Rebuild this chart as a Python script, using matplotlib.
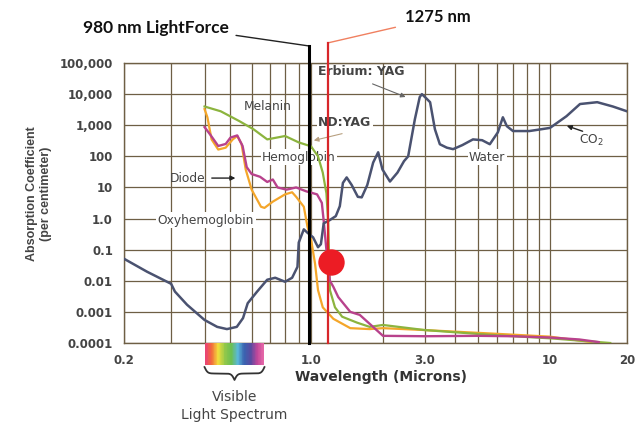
import numpy as np
import matplotlib; matplotlib.use("Agg")
import matplotlib.pyplot as plt
import matplotlib.ticker as mticker
import matplotlib.transforms as mtrans
from matplotlib.colors import LinearSegmentedColormap

# ---- curves (wavelength in microns, absorption per cm) ----
WATER_X=[0.2,0.244,0.3,0.31,0.344,0.4,0.446,0.485,0.528,0.557,0.58,0.629,0.686,0.735,0.8,0.85,0.89,0.9,0.94,0.97,
         1.02,1.07,1.1,1.13,1.2,1.27,1.32,1.36,1.41,1.48,1.57,1.63,1.72,1.82,1.91,1.99,2.14,2.3,2.45,2.55,2.72,2.85,
         2.91,3.0,3.15,3.3,3.46,3.7,3.93,4.3,4.76,5.2,5.6,6.05,6.35,6.6,7.0,8.2,10.0,11.6,13.1,15.3,17.6,20.0]
WATER_Y=[0.051,0.0195,0.008,0.0045,0.0017,0.00055,0.00033,0.00028,0.00033,0.00063,0.0019,0.0045,0.0108,0.0125,0.0093,0.0125,0.028,0.17,0.45,0.35,
         0.25,0.12,0.15,0.7,0.9,1.2,2.5,14,21,12,5,4.8,12,63,135,38,15.5,30,70,100,1550,8000,
         10000,8000,5500,740,245,190,170,230,350,330,245,590,1800,930,650,650,820,1950,4800,5500,4000,2800]

MELANIN_X=[0.4,0.46,0.54,0.61,0.686,0.8,0.9,1.0,1.07,1.12,1.16,1.18,1.2,1.26,1.35,1.56,1.76,2.0,3.0,5.8,10.2,17.2]
MELANIN_Y=[4000,2800,1350,740,350,450,280,210,100,30,6.5,0.8,0.005,0.0014,0.0007,0.00045,0.00033,0.00038,0.00026,0.00018,0.00014,0.0001]

OXY_X=[0.4,0.41,0.425,0.45,0.48,0.51,0.53,0.55,0.57,0.6,0.65,0.67,0.72,0.8,0.85,0.88,0.94,0.97,1.0,1.04,1.07,1.12,1.24,1.46,1.76,2.0,3.0,5.8,10.0,14.5]
OXY_Y=[3300,1800,350,165,190,350,450,250,38,8.5,2.4,2.2,3.5,6,7,5,2.4,0.55,0.22,0.035,0.005,0.0014,0.0006,0.0003,0.00028,0.0003,0.00026,0.0002,0.00016,0.000107]

HEMO_X=[0.4,0.42,0.45,0.48,0.5,0.53,0.555,0.575,0.6,0.645,0.686,0.72,0.75,0.81,0.88,0.96,1.06,1.11,1.13,1.16,1.2,1.24,1.3,1.46,1.6,2.0,3.0,5.0,7.0,10.0,13.0,15.5]
HEMO_Y=[870,500,215,250,400,470,215,45,27,22,15,18,10,8.5,10,7.5,6,3.2,0.85,0.1,0.01,0.0064,0.003,0.001,0.0008,0.00017,0.000165,0.00017,0.000165,0.00015,0.00013,0.000107]

LINE_X=[0.98,1.18]          # 980 nm LightForce (black), 1275 nm marker (red, where the scan draws it)
DOT=(1.21,0.041)
SPECTRUM=(0.4,0.67)
SPECTRUM_COLS=["#e8407a","#f26a3c","#f3df3c","#93c84a","#6bbf52","#5ab8d8","#3b62b0","#5a4aa0","#c2479a","#e86aa8"]

YTICKS=[1e-4,1e-3,1e-2,1e-1,1,10,100,1e3,1e4,1e5]
YLABELS=["0.0001","0.001","0.01","0.1","1.0","10","100","1,000","10,000","100,000"]
XTICKS=[0.2,1.0,3.0,10,20]
XLABELS=["0.2","1.0","3.0","10","20"]
XMINOR=[0.3,0.4,0.5,0.6,0.7,0.8,0.9,2,4,5,6,7,8,9]

# scanned x axis is not a clean log axis: piecewise-log calibration
LOGK=[-6.0,np.log10(0.2),0.0,1.0,np.log10(20),6.0]
PIXK=[-1418,0,187,426,503,1705]
def fwd(x): return np.interp(np.log10(np.clip(np.asarray(x,float),1e-30,None)),LOGK,PIXK)
def inv(p): return 10**np.interp(np.asarray(p,float),PIXK,LOGK)

GRID="#6e5f45"; TXT="#444444"
plt.rcParams.update({"font.family":"DejaVu Sans"})
fig=plt.figure(figsize=(6.4,4.24),dpi=100,facecolor="white")
ax=fig.add_axes([124/640,1-343/424,503/640,280/424])
ax.set_xscale("function",functions=(fwd,inv)); ax.set_yscale("log")
ax.set_xlim(0.2,20); ax.set_ylim(1e-4,1e5)
ax.xaxis.set_major_locator(mticker.FixedLocator(XTICKS))
ax.xaxis.set_minor_locator(mticker.FixedLocator(XMINOR))
ax.xaxis.set_major_formatter(mticker.FixedFormatter(XLABELS))
ax.xaxis.set_minor_formatter(mticker.NullFormatter())
ax.yaxis.set_major_locator(mticker.FixedLocator(YTICKS))
ax.yaxis.set_major_formatter(mticker.FixedFormatter(YLABELS))
ax.yaxis.set_minor_locator(mticker.NullLocator())
ax.tick_params(which="both",length=0,labelsize=8.5,labelcolor=TXT)
ax.tick_params(axis="x",pad=8); ax.tick_params(axis="y",pad=8)
for lb in ax.get_xticklabels()+ax.get_yticklabels(): lb.set_fontweight("bold")
ax.grid(True,which="both",color=GRID,lw=0.9); ax.set_axisbelow(True)
for sp in ax.spines.values(): sp.set_color(GRID); sp.set_linewidth(1)

ax.plot(OXY_X,OXY_Y,color="#f4a62a",lw=1.6,zorder=3)
ax.plot(MELANIN_X,MELANIN_Y,color="#8cb43e",lw=1.6,zorder=3.1)
ax.plot(HEMO_X,HEMO_Y,color="#b8428c",lw=1.7,zorder=3.2)
ax.plot(WATER_X,WATER_Y,color="#4a5270",lw=1.8,zorder=3.3)

bt=mtrans.blended_transform_factory(ax.transData,ax.transAxes)
ax.plot([LINE_X[0]]*2,[0,1.061],transform=bt,color="black",lw=2.2,clip_on=False,zorder=4)
ax.plot([LINE_X[1]]*2,[0,1.072],transform=bt,color="#d8262a",lw=1.6,clip_on=False,zorder=4)
ax.plot(*DOT,"o",color="#ec1c24",ms=19,mec="none",zorder=5)

ax.annotate("980 nm LightForce",xy=(LINE_X[0],1.061),xycoords=bt,xytext=(0.064,1.125),textcoords="axes fraction",
            ha="center",va="center",fontsize=12.5,fontweight="bold",family="Lato",color="#111111",
            arrowprops=dict(arrowstyle="-",color="#222222",lw=1,relpos=(1,0.1),shrinkA=3,shrinkB=0))
ax.annotate("1275 nm",xy=(LINE_X[1],1.072),xycoords=bt,xytext=(0.624,1.164),textcoords="axes fraction",
            ha="center",va="center",fontsize=12,fontweight="bold",family="Lato",color="#111111",
            arrowprops=dict(arrowstyle="-",color="#f08060",lw=1,relpos=(0,0),shrinkA=5,shrinkB=0))

# curve labels
box=dict(fc="white",ec="none",pad=1)
kw=dict(transform=ax.transAxes,fontsize=8.8,color=TXT,zorder=2.5,va="center")
ax.text(0.286,0.843,"Melanin",ha="center",**kw)
ax.text(0.348,0.664,"Hemoglobin",ha="center",bbox=box,**kw)
ax.text(0.163,0.439,"Oxyhemoglobin",ha="center",bbox=box,**kw)
ax.text(0.722,0.664,"Water",ha="center",bbox=box,**kw)
ax.text(0.161,0.589,"Diode",ha="right",**kw)
ax.text(0.386,0.789,"ND:YAG",ha="left",fontweight="bold",bbox=box,**dict(kw,fontsize=9))
ax.text(0.386,0.968,"Erbium: YAG",ha="left",fontweight="bold",**dict(kw,fontsize=9))
ax.text(0.93,0.725,"CO$_2$",ha="center",**kw)
akw=dict(xycoords="axes fraction",textcoords="axes fraction")
ax.annotate("",xy=(0.227,0.589),xytext=(0.169,0.589),arrowprops=dict(arrowstyle="-|>",color="#222222",lw=1,mutation_scale=7),**akw)
ax.annotate("",xy=(0.372,0.721),xytext=(0.439,0.75),arrowprops=dict(arrowstyle="-|>",color="#b8a080",lw=0.8,mutation_scale=7),**akw)
ax.annotate("",xy=(0.565,0.875),xytext=(0.489,0.929),arrowprops=dict(arrowstyle="-|>",color="#666666",lw=0.8,mutation_scale=7),**akw)
ax.annotate("",xy=(0.875,0.779),xytext=(0.917,0.753),arrowprops=dict(arrowstyle="-|>",color="#222222",lw=1,mutation_scale=7),**akw)

ax.text(-0.169,0.532,"Absorption Coefficient\n(per centimeter)",transform=ax.transAxes,rotation=90,
        ha="center",va="center",fontsize=9,fontweight="bold",color=TXT,linespacing=1.2,family="Liberation Sans")
ax.text(0.511,-0.121,"Wavelength (Microns)",transform=ax.transAxes,ha="center",va="center",
        fontsize=10,fontweight="bold",color="#333333")

# visible spectrum strip + brace
sax=ax.inset_axes([0,-22/280,1,22/280])
sax.set_xscale("function",functions=(fwd,inv)); sax.set_xlim(0.2,20); sax.set_ylim(0,1); sax.axis("off")
xs=np.geomspace(SPECTRUM[0],SPECTRUM[1],80)
sax.pcolormesh(xs,[0,1],np.arange(len(xs)-1)[None,:],cmap=LinearSegmentedColormap.from_list("vis",SPECTRUM_COLS))
span=fwd(20)-fwd(0.2)
b0=(fwd(SPECTRUM[0])-fwd(0.2))/span; b1=(fwd(SPECTRUM[1])-fwd(0.2))/span
t=np.linspace(0,1,201); half=t[:101]; beta=40
yh=1/(1+np.exp(-beta*(half-half[0])))+1/(1+np.exp(-beta*(half-half[-1])))
yb=np.concatenate([yh,yh[-2::-1]])
ax.plot(b0+(b1-b0)*t,-0.086-(yb-0.5)*0.046,transform=ax.transAxes,color="#333333",lw=1.3,clip_on=False)
ax.text((b0+b1)/2,-0.193,"Visible",transform=ax.transAxes,ha="center",va="center",fontsize=10,color=TXT)
ax.text((b0+b1)/2,-0.257,"Light Spectrum",transform=ax.transAxes,ha="center",va="center",fontsize=10,color=TXT)

fig.savefig("out.png",dpi=100,facecolor="white")
